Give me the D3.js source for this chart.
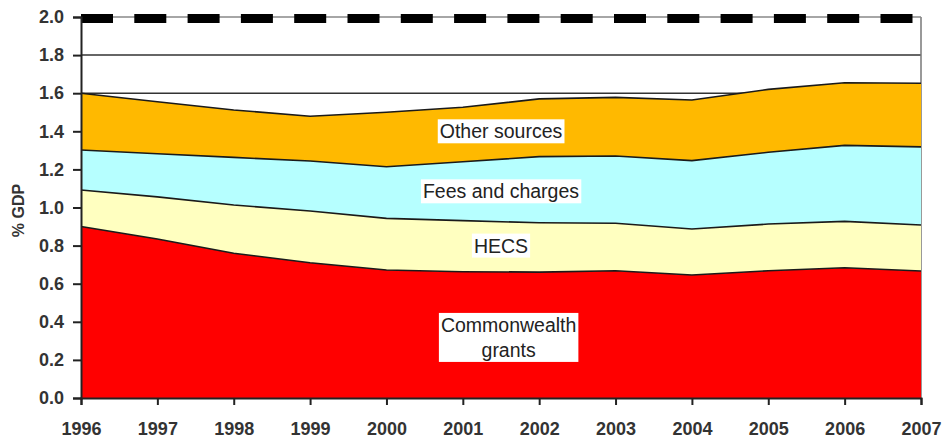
<!DOCTYPE html>
<html>
<head>
<meta charset="utf-8">
<script src="https://cdn.jsdelivr.net/npm/d3@7"></script>
<style>
  html, body { margin: 0; padding: 0; background: #fff; }
  svg { display: block; font-family: Arial, "Liberation Sans", sans-serif; }
</style>
</head>
<body>
<svg id="chart" width="944" height="441"></svg>
<script>
// Higher education funding sources, % of GDP
const years = [1996, 1997, 1998, 1999, 2000, 2001, 2002, 2003, 2004, 2005, 2006, 2007];
const commonwealthGrants = [0.900, 0.835, 0.760, 0.710, 0.672, 0.663, 0.661, 0.668, 0.646, 0.668, 0.684, 0.667];
const hecs               = [0.192, 0.221, 0.253, 0.272, 0.271, 0.268, 0.259, 0.249, 0.241, 0.245, 0.243, 0.241];
const feesAndCharges     = [0.210, 0.226, 0.250, 0.262, 0.271, 0.309, 0.347, 0.353, 0.359, 0.377, 0.399, 0.410];
const otherSources       = [0.298, 0.273, 0.249, 0.235, 0.286, 0.286, 0.303, 0.308, 0.318, 0.330, 0.329, 0.334];
const yTicks = [0.0, 0.2, 0.4, 0.6, 0.8, 1.0, 1.2, 1.4, 1.6, 1.8, 2.0];
const seriesKeys = ["commonwealth", "hecs", "fees", "other"];
const seriesColors = ["#ff0000", "#ffffc0", "#b6ffff", "#ffb900"];
// label text, anchor year, anchor value
const areaLabels = [
  { lines: ["Other sources"], year: 2001.5, value: 1.40 },
  { lines: ["Fees and charges"], year: 2001.5, value: 1.085 },
  { lines: ["HECS"], year: 2001.5, value: 0.80 },
  { lines: ["Commonwealth", "grants"], year: 2001.6, value: 0.318 }
];

const table = years.map((y, i) => ({
  year: y,
  commonwealth: commonwealthGrants[i],
  hecs: hecs[i],
  fees: feesAndCharges[i],
  other: otherSources[i]
}));

const margin = { left: 81, right: 23, top: 17, bottom: 43 };
const W = 944, H = 441;
const svg = d3.select("#chart");

const x = d3.scaleLinear().domain([1996, 2007]).range([margin.left, W - margin.right]);
const y = d3.scaleLinear().domain([0, 2.0]).range([H - margin.bottom, margin.top]);

const stacked = d3.stack().keys(seriesKeys)(table);

// gridlines
svg.append("g")
  .selectAll("line")
  .data(yTicks.filter(v => v > 0 && v < 2.0))
  .join("line")
  .attr("x1", x(1996)).attr("x2", x(2007))
  .attr("y1", d => y(d)).attr("y2", d => y(d))
  .attr("stroke", "#333").attr("stroke-width", 1.5);

// right frame
svg.append("line")
  .attr("x1", x(2007)).attr("x2", x(2007))
  .attr("y1", y(2.0)).attr("y2", y(0))
  .attr("stroke", "#777").attr("stroke-width", 1.5);

// stacked areas
const area = d3.area()
  .x(d => x(d.data.year))
  .y0(d => y(d[0]))
  .y1(d => y(d[1]));

svg.append("g")
  .selectAll("path")
  .data(stacked)
  .join("path")
  .attr("d", area)
  .attr("fill", (d, i) => seriesColors[i]);

// boundary lines on top of each layer
const topLine = d3.line()
  .x(d => x(d.data.year))
  .y(d => y(d[1]));

svg.append("g")
  .selectAll("path")
  .data(stacked)
  .join("path")
  .attr("d", topLine)
  .attr("fill", "none")
  .attr("stroke", "#1a1a1a")
  .attr("stroke-width", 1.6);

// dashed line at 2.0
svg.append("line")
  .attr("x1", x(1996)).attr("x2", x(2007))
  .attr("y1", y(2.0)).attr("y2", y(2.0))
  .attr("stroke", "#888").attr("stroke-width", 1.5);
svg.append("line")
  .attr("x1", x(1996)).attr("x2", x(2007))
  .attr("y1", y(2.0) + 1.5).attr("y2", y(2.0) + 1.5)
  .attr("stroke", "#000").attr("stroke-width", 9)
  .attr("stroke-dasharray", "32 21.3");

// y axis
const yAxis = svg.append("g")
  .attr("transform", `translate(${margin.left},0)`)
  .call(d3.axisLeft(y).tickValues(yTicks).tickFormat(d3.format(".1f")).tickSize(8).tickPadding(9));
yAxis.select(".domain").attr("stroke", "#222").attr("stroke-width", 2);
yAxis.selectAll(".tick line").attr("stroke", "#222").attr("stroke-width", 2);
yAxis.selectAll(".tick text")
  .attr("font-size", 18).attr("font-weight", "bold").attr("fill", "#333")
  .attr("font-family", "Arial, 'Liberation Sans', sans-serif");

// x axis
const xAxis = svg.append("g")
  .attr("transform", `translate(0,${y(0)})`)
  .call(d3.axisBottom(x).tickValues(years).tickFormat(d3.format("d")).tickSize(7).tickPadding(17));
xAxis.select(".domain").attr("stroke", "#222").attr("stroke-width", 2);
xAxis.selectAll(".tick line").attr("stroke", "#222").attr("stroke-width", 2);
xAxis.selectAll(".tick text")
  .attr("font-size", 18).attr("font-weight", "bold").attr("fill", "#333")
  .attr("font-family", "Arial, 'Liberation Sans', sans-serif");

// y axis title
svg.append("text")
  .attr("transform", `translate(24,${(y(0) + y(2.0)) / 2 + 3}) rotate(-90)`)
  .attr("text-anchor", "middle")
  .attr("font-size", 16).attr("font-weight", "bold").attr("fill", "#333")
  .text("% GDP");

// area labels on white boxes
areaLabels.forEach(lab => {
  const g = svg.append("g");
  const lineH = 25;
  const cx = x(lab.year), cy = y(lab.value);
  const t = g.append("text")
    .attr("text-anchor", "middle")
    .attr("font-size", 19.5)
    .attr("fill", "#222");
  lab.lines.forEach((s, i) => {
    t.append("tspan")
      .attr("x", cx)
      .attr("y", cy + (i - (lab.lines.length - 1) / 2) * lineH + 7)
      .text(s);
  });
  const bb = t.node().getBBox();
  g.insert("rect", "text")
    .attr("x", bb.x - 2).attr("y", bb.y - 1)
    .attr("width", bb.width + 4).attr("height", bb.height + 2)
    .attr("fill", "#fff");
});
</script>
</body>
</html>
